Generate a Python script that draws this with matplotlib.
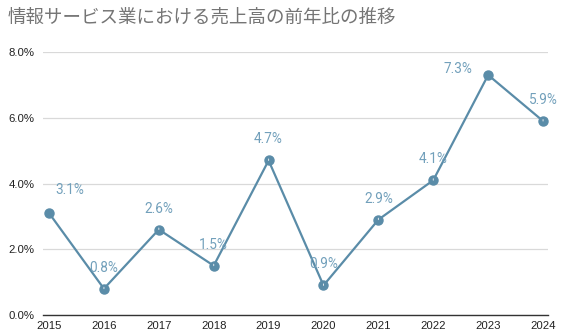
import matplotlib.pyplot as plt
from matplotlib.ticker import FuncFormatter

years = [2015, 2016, 2017, 2018, 2019, 2020, 2021, 2022, 2023, 2024]
growth = [3.1, 0.8, 2.6, 1.5, 4.7, 0.9, 2.9, 4.1, 7.3, 5.9]
labels = ["3.1%", "0.8%", "2.6%", "1.5%", "4.7%", "0.9%", "2.9%", "4.1%", "7.3%", "5.9%"]
title = "情報サービス業における売上高の前年比の推移"

line_color = "#5a8ca8"
label_color = "#72a0bb"

fig = plt.figure(figsize=(5.76, 3.35), dpi=100)
ax = fig.add_axes([43 / 576, 1 - 315 / 335, (548 - 43) / 576, (315 - 52) / 335])

ax.plot(years, growth, color=line_color, lw=1.6, marker="o", ms=6.5, zorder=3)

# label offsets in pixels (mostly centred above the point)
offsets = {2015: (21, 23), 2023: (-30, 6)}
for x, y, s in zip(years, growth, labels):
    dx, dy = offsets.get(x, (0, 21))
    ax.annotate(s, (x, y), xytext=(dx, dy), textcoords="offset pixels",
                ha="center", va="center", fontsize=9.8, color=label_color,
                family="Roboto", annotation_clip=False,
                arrowprops=dict(arrowstyle="-", color="#e3e9ee", lw=0.7,
                                shrinkA=7, shrinkB=4) if dx == 0 else None)

ax.set_xlim(2014.89, 2024.09)
ax.set_ylim(0, 8)
ax.set_xticks(years)
ax.set_yticks([0, 2, 4, 6, 8])
ax.yaxis.set_major_formatter(FuncFormatter(lambda v, p: f"{v:.1f}%"))
ax.grid(axis="y", color="#d9d9d9", lw=0.9)
ax.set_axisbelow(True)
for side in ["top", "right", "left"]:
    ax.spines[side].set_visible(False)
ax.spines["bottom"].set_color("#333333")
ax.spines["bottom"].set_linewidth(1.0)
ax.tick_params(length=0, labelsize=8.2, colors="#222222")
ax.tick_params(axis="x", pad=4)
ax.tick_params(axis="y", pad=6)
for t in ax.get_xticklabels() + ax.get_yticklabels():
    t.set_family("Liberation Sans")

fig.text(8 / 576, 1 - 18 / 335, title, fontsize=13.3, color="#757575",
         family=["Noto Sans CJK JP", "DejaVu Sans"], va="center", ha="left")

fig.savefig("out.png", dpi=100)
